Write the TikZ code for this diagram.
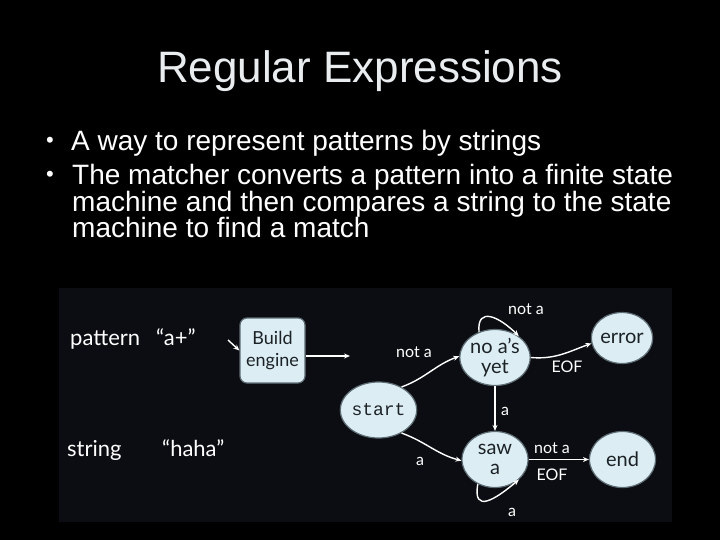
\documentclass[tikz,border=0pt]{standalone}
\usepackage{fontspec}
\setmainfont{Liberation Sans}
\setmonofont{Liberation Mono}
\newfontfamily\diagfont{Lato}
\usetikzlibrary{arrows.meta,shapes.geometric}

\definecolor{panelbg}{HTML}{0B0D12}
\definecolor{titlegray}{HTML}{E9EDF0}
\definecolor{statefill}{HTML}{DCEEF4}
\definecolor{stateedge}{HTML}{5E6C74}
\definecolor{statetext}{HTML}{1C2226}

\begin{document}
\begin{tikzpicture}[
  x=1pt, y=-1pt,
  >={Stealth[length=6pt,width=5pt]},
  fsm/.style={ellipse, draw=stateedge, line width=1.2pt, fill=statefill, text=statetext, minimum width=66pt, minimum height=56pt, inner sep=0pt, align=center, font=\diagfont\fontsize{20}{20}\selectfont},
  enginebox/.style={rectangle, rounded corners=7pt, draw=stateedge, line width=1.2pt, fill=statefill, text=statetext, minimum width=65pt, minimum height=65pt, inner sep=0pt, align=center, font=\diagfont\fontsize{18}{22}\selectfont},
  trans/.style={->, white, line width=1.4pt},
  lbl/.style={text=white, inner sep=0pt, font=\diagfont\fontsize{16}{17}\selectfont},
  side/.style={text=white, inner sep=0pt, font=\diagfont\fontsize{22}{22}\selectfont},
  bullettext/.style={text=white, inner sep=0pt, align=left, font=\fontsize{28}{26.5}\selectfont}
]
\useasboundingbox[fill=black] (0,0) rectangle (720,540);

% Title and bullets
\node[anchor=base, text=titlegray, inner sep=0pt, font=\fontsize{44}{50}\selectfont] (title) at (360,83) {Regular Expressions};
\node[bullettext, anchor=center, font=\fontsize{22}{22}\selectfont] (dot1) at (50,142) {•};
\node[bullettext, anchor=base west] (item1) at (71,151) {A way to represent patterns by strings};
\node[bullettext, anchor=center, font=\fontsize{22}{22}\selectfont] (dot2) at (50,176) {•};
\node[bullettext, anchor=north west] (item2) at (72,164.5) {The matcher converts a pattern into a finite state\\machine and then compares a string to the state\\machine to find a match};

% Diagram panel
\fill[panelbg] (59,288) rectangle (672,522);

% Inputs
\node[side, anchor=base west] (patlbl) at (70,345) {pattern};
\node[side, anchor=base west] (patval) at (156,345) {“a+”};
\node[side, anchor=base west] (strlbl) at (67,456) {string};
\node[side, anchor=base west] (strval) at (162,456) {“haha”};

% Engine
\node[enginebox] (build) at (272.5,350.5) {Build\\engine};
\coordinate (pin) at (228,340);
\coordinate (feed) at (350,356);

% States
\node[fsm, minimum width=63pt, font=\ttfamily\fontsize{18}{18}\selectfont] (start) at (378.5,410) {start};
\node[fsm] (noas) at (495,357.5) {no a’s\\yet};
\node[fsm] (saw) at (495,459.5) {saw\\a};
\node[fsm, minimum width=61pt, minimum height=51pt] (error) at (622,338) {error};
\node[fsm] (end) at (622.5,459.5) {end};

% Labels
\node[lbl] (l_startno) at (414,352) {not a};
\node[lbl] (l_startsaw) at (420,461) {a};
\node[lbl] (l_noloop) at (526,309) {not a};
\node[lbl] (l_eof1) at (567,367) {EOF};
\node[lbl] (l_nosaw) at (505,411) {a};
\node[lbl] (l_notend) at (552,448) {not a};
\node[lbl] (l_eof2) at (552,475) {EOF};
\node[lbl] (l_sawloop) at (512,512) {a};

% Connections
\draw[trans] (pin) -- (build.west);
\draw[trans] (build.east |- feed) -- (feed);

\draw[trans] (start.45) to[out=20,in=200] (noas.178);
\draw[trans] (start.-45) to[out=-20,in=165] (saw.182);
\draw[trans] (noas.122) to[out=95,in=135,looseness=1.7] (noas.42);
\draw[trans] (noas.east) to[out=-5,in=200] (error.190);
\draw[trans] (noas) -- (saw);
\draw[trans] (saw) -- (end);
\draw[trans] (saw.235) to[out=-100,in=-140,looseness=1.9] (saw.-40);

\end{tikzpicture}
\end{document}
